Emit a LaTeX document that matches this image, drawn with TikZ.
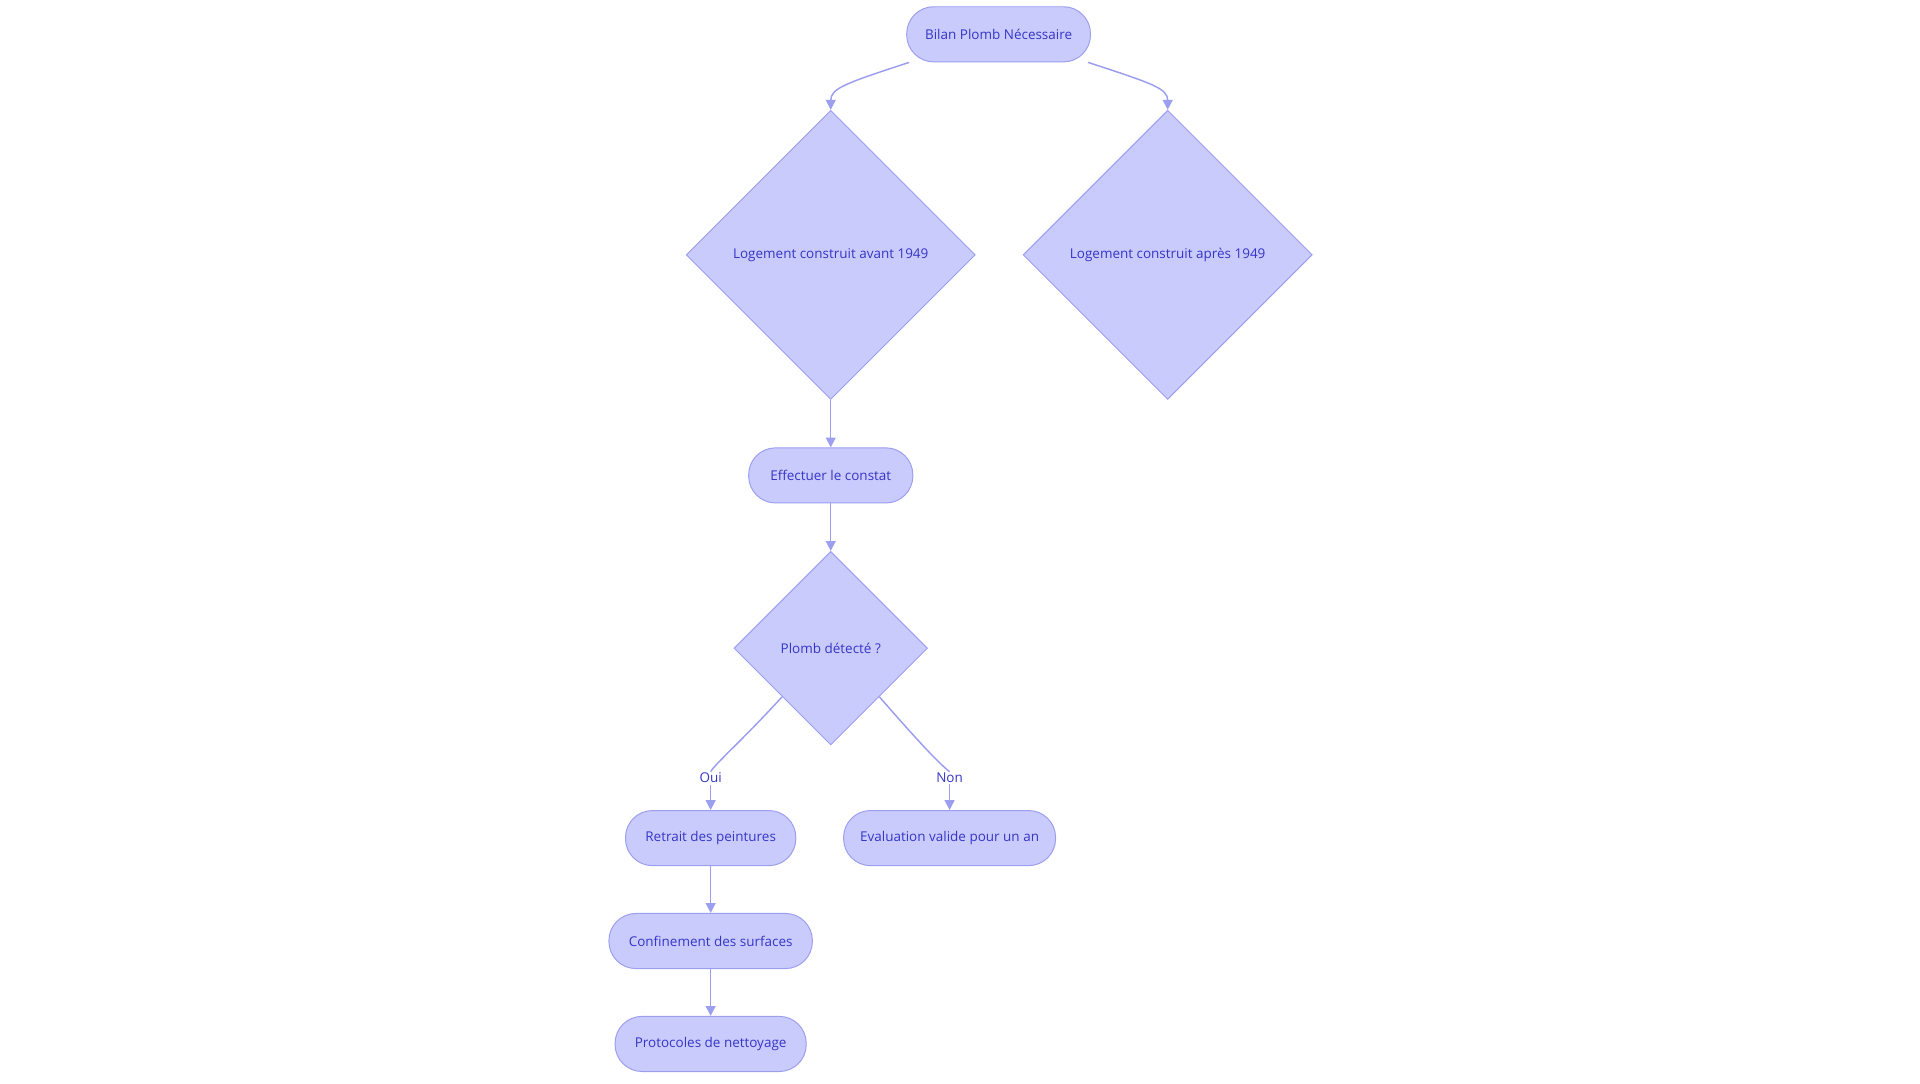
\documentclass[tikz,border=0pt]{standalone}
\usepackage{fontspec}
\setmainfont{Open Sans}
\usetikzlibrary{shapes.geometric,arrows.meta}
\definecolor{fl}{HTML}{C9CBFC}
\definecolor{st}{HTML}{9C9EF0}
\definecolor{tx}{HTML}{3535C8}
\tikzset{
 base/.style={fill=fl,draw=st,line width=0.8pt,text=tx,font=\fontsize{11}{13}\selectfont},
 pill/.style={base,rounded corners=22pt,minimum height=45pt,inner sep=0pt},
 dia/.style={base,diamond,inner sep=0pt,aspect=1},
 lbl/.style={text=tx,font=\fontsize{11}{13}\selectfont,inner sep=1pt},
 edge/.style={draw=st,line width=1.2pt,-{Triangle[length=8pt,width=8pt]}},
 edgen/.style={draw=st,line width=1.2pt}
}
\begin{document}
\begin{tikzpicture}[x=1pt,y=-1pt]
\useasboundingbox (0,0) rectangle (1567,884);
\node[pill,minimum width=150pt] (top) at (815,28) {Bilan Plomb Nécessaire};
\node[dia,minimum width=236pt,minimum height=236pt] (d1) at (678,208) {Logement construit avant 1949};
\node[dia,minimum width=236pt,minimum height=236pt] (d2) at (953,208) {Logement construit après 1949};
\node[pill,minimum width=134pt] (eff) at (678,388) {Effectuer le constat};
\node[dia,minimum width=158pt,minimum height=158pt] (d3) at (678,529) {Plomb détecté ?};
\node[pill,minimum width=139pt] (ret) at (580,684) {Retrait des peintures};
\node[pill,minimum width=173pt] (eva) at (775,684) {Evaluation valide pour un an};
\node[pill,minimum width=166pt] (con) at (580,768) {Confinement des surfaces};
\node[pill,minimum width=156pt] (pro) at (580,852) {Protocoles de nettoyage};
\node[lbl] (oui) at (580,635) {Oui};
\node[lbl] (non) at (775,635) {Non};
\draw[edge] ([xshift=-73pt]top.south) .. controls (690,68) and (678,72) .. (d1.north);
\draw[edge] ([xshift=73pt]top.south) .. controls (940,68) and (953,72) .. (d2.north);
\draw[edge] (d1.south) -- (eff.north);
\draw[edge] (eff.south) -- (d3.north);
\draw[edgen] (d3.south west) .. controls (605,605) and (585,622) .. (oui.north);
\draw[edge] (oui.south) -- (ret.north);
\draw[edgen] (d3.south east) .. controls (745,600) and (765,622) .. (non.north);
\draw[edge] (non.south) -- (eva.north);
\draw[edge] (ret.south) -- (con.north);
\draw[edge] (con.south) -- (pro.north);
\end{tikzpicture}
\end{document}
